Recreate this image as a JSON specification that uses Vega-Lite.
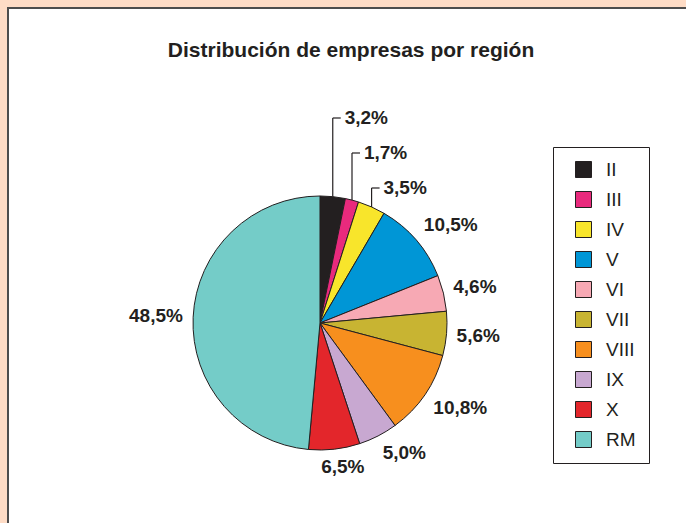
{
  "$schema": "https://vega.github.io/schema/vega-lite/v6.json",
  "width": 686,
  "height": 523,
  "autosize": {"type": "none"},
  "padding": {"left": 8, "top": 8, "right": 0, "bottom": 0},
  "background": "#fedcc6",
  "title": {
    "text": "Distribución de empresas por región",
    "fontSize": 21,
    "font": "Liberation Sans",
    "fontWeight": "bold",
    "color": "#231f20",
    "anchor": "middle",
    "frame": "group",
    "baseline": "alphabetic",
    "offset": 0,
    "dy": 70
  },
  "config": {
    "view": {"fill": "white", "stroke": "#4d4d4d", "strokeWidth": 2},
    "font": "Liberation Sans"
  },
  "data": {
    "values": [
      {"region": "II", "pct": 3.2},
      {"region": "III", "pct": 1.7},
      {"region": "IV", "pct": 3.5},
      {"region": "V", "pct": 10.5},
      {"region": "VI", "pct": 4.6},
      {"region": "VII", "pct": 5.6},
      {"region": "VIII", "pct": 10.8},
      {"region": "IX", "pct": 5.0},
      {"region": "X", "pct": 6.5},
      {"region": "RM", "pct": 48.5}
    ]
  },
  "transform": [
    {"window": [{"op": "row_number", "as": "idx"}]},
    {"joinaggregate": [{"op": "sum", "field": "pct", "as": "total"}]},
    {"window": [{"op": "sum", "field": "pct", "as": "cum"}], "sort": [{"field": "idx"}], "frame": [null, 0]},
    {"calculate": "2*PI*(datum.cum - datum.pct/2)/datum.total", "as": "mid"},
    {"calculate": "sin(datum.mid)", "as": "ex"},
    {"calculate": "cos(datum.mid)", "as": "ey"},
    {"calculate": "datum.idx <= 3", "as": "small"},
    {"calculate": "replace(format(datum.pct, '.1f'), '.', ',') + '%'", "as": "label"},
    {"calculate": "datum.small ? (205 - 35*(datum.idx-1))/127 : 1.08*datum.ey + 0.063*clamp(2*datum.ey, -1, 1)", "as": "ly"},
    {"calculate": "datum.small ? datum.ex + 0.094 : 1.08*datum.ex + length(datum.label)*0.0425*clamp(3*datum.ex, -1, 1)", "as": "lx"},
    {"calculate": "datum.ex + 0.063", "as": "ex2"}
  ],
  "layer": [
    {
      "mark": {"type": "arc", "radius": 127, "stroke": "#231f20", "strokeWidth": 1},
      "encoding": {
        "theta": {"field": "pct", "type": "quantitative", "stack": true},
        "order": {"field": "idx", "type": "quantitative"},
        "color": {
          "field": "region",
          "type": "nominal",
          "sort": null,
          "scale": {
            "domain": ["II", "III", "IV", "V", "VI", "VII", "VIII", "IX", "X", "RM"],
            "range": ["#231f20", "#e92a7d", "#f8e52b", "#0096d6", "#f7a9b4", "#c8b432", "#f78f1e", "#c8a8d1", "#e3262b", "#74ccc8"]
          },
          "legend": {
            "title": null,
            "orient": "none",
            "legendX": 545,
            "legendY": 139,
            "symbolType": "square",
            "symbolSize": 256,
            "symbolStrokeColor": "#231f20",
            "symbolStrokeWidth": 1,
            "symbolOpacity": 1,
            "symbolOffset": 8,
            "labelFontSize": 19,
            "labelFont": "Liberation Sans",
            "labelColor": "#231f20",
            "labelOffset": 13,
            "rowPadding": 9,
            "padding": 13,
            "strokeColor": "#231f20",
            "fillColor": "white"
          }
        },
        "x": {"datum": 0, "type": "quantitative", "scale": {"domain": [-2.4567, 2.9449], "nice": false, "zero": false}, "axis": null},
        "y": {"datum": 0, "type": "quantitative", "scale": {"domain": [-1.6378, 2.4803], "nice": false, "zero": false}, "axis": null}
      }
    },
    {
      "transform": [{"filter": "datum.small"}],
      "mark": {"type": "rule", "stroke": "#231f20", "strokeWidth": 1.2},
      "encoding": {
        "x": {"field": "ex", "type": "quantitative", "scale": {"domain": [-2.4567, 2.9449], "nice": false, "zero": false}, "axis": null},
        "y": {"field": "ey", "type": "quantitative", "scale": {"domain": [-1.6378, 2.4803], "nice": false, "zero": false}, "axis": null},
        "y2": {"field": "ly"}
      }
    },
    {
      "transform": [{"filter": "datum.small"}],
      "mark": {"type": "rule", "stroke": "#231f20", "strokeWidth": 1.2},
      "encoding": {
        "x": {"field": "ex", "type": "quantitative", "scale": {"domain": [-2.4567, 2.9449], "nice": false, "zero": false}, "axis": null},
        "x2": {"field": "ex2"},
        "y": {"field": "ly", "type": "quantitative", "scale": {"domain": [-1.6378, 2.4803], "nice": false, "zero": false}, "axis": null}
      }
    },
    {
      "transform": [{"filter": "datum.small"}],
      "mark": {"type": "text", "align": "left", "baseline": "middle", "fontSize": 19, "fontWeight": "bold", "font": "Liberation Sans", "color": "#231f20"},
      "encoding": {
        "x": {"field": "lx", "type": "quantitative", "scale": {"domain": [-2.4567, 2.9449], "nice": false, "zero": false}, "axis": null},
        "y": {"field": "ly", "type": "quantitative", "scale": {"domain": [-1.6378, 2.4803], "nice": false, "zero": false}, "axis": null},
        "text": {"field": "label"}
      }
    },
    {
      "transform": [{"filter": "!datum.small"}],
      "mark": {"type": "text", "align": "center", "baseline": "middle", "fontSize": 19, "fontWeight": "bold", "font": "Liberation Sans", "color": "#231f20"},
      "encoding": {
        "x": {"field": "lx", "type": "quantitative", "scale": {"domain": [-2.4567, 2.9449], "nice": false, "zero": false}, "axis": null},
        "y": {"field": "ly", "type": "quantitative", "scale": {"domain": [-1.6378, 2.4803], "nice": false, "zero": false}, "axis": null},
        "text": {"field": "label"}
      }
    }
  ]
}
